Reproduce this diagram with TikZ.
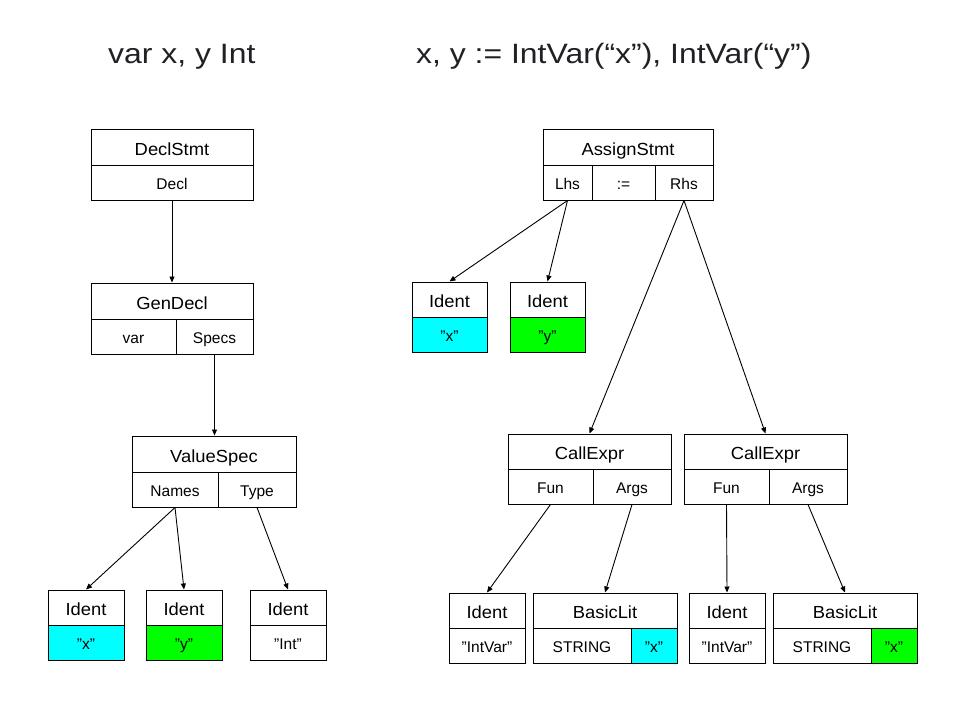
\documentclass[tikz,border=0pt]{standalone}
\usepackage{fontspec}
\setmainfont{Liberation Sans}
\newfontfamily\titlefont[FakeStretch=1.14]{Liberation Sans}
\newfontfamily\headfont[FakeStretch=1.05]{Liberation Sans}
\usetikzlibrary{arrows.meta}
\definecolor{cyanfill}{HTML}{00FFFF}
\definecolor{greenfill}{HTML}{00FF00}
\definecolor{titlegray}{HTML}{202124}
\newcommand\mycell[7][]{%
  \pgfmathsetmacro\cellW{#5-#3}\pgfmathsetmacro\cellH{#6-#4}%
  \pgfmathsetmacro\cellX{(#3+#5)/2}\pgfmathsetmacro\cellY{(#4+#6)/2}%
  \node[cell,#1,minimum width=\cellW pt,minimum height=\cellH pt] (#2) at (\cellX,\cellY) {#7};}
\begin{document}
\begin{tikzpicture}[x=1pt,y=-1pt,
  cell/.style={draw=black,line width=1pt,inner sep=0pt,text height=14.5pt,text depth=0pt,font=\fontsize{15.5}{18}\selectfont},
  head/.style={text height=16pt,font=\headfont\fontsize{17.5}{20}\selectfont},
  cyancell/.style={fill=cyanfill},
  greencell/.style={fill=greenfill},
  arr/.style={line width=0.9pt,-{Triangle[length=6pt,width=5pt]}},
  titletext/.style={anchor=base west,inner sep=0pt,text=titlegray,font=\titlefont\fontsize{28}{32}\selectfont}]
\useasboundingbox[fill=white] (0,0) rectangle (960,720);
% titles
\node[titletext] (t1) at (108,63) {var x, y Int};
\node[titletext] (t2) at (416,63) {x, y := IntVar(“x”), IntVar(“y”)};
% left tree
\mycell[head]{declstmt}{91}{129}{253}{165}{DeclStmt}
\mycell{decl}{91}{165}{253}{200}{Decl}
\mycell[head]{gendecl}{91}{283}{253}{319}{GenDecl}
\mycell{var}{91}{319}{176}{354}{var}
\mycell{specs}{176}{319}{253}{354}{Specs}
\mycell[head]{valuespec}{132}{436}{296}{472}{ValueSpec}
\mycell{names}{132}{472}{218}{507}{Names}
\mycell{type}{218}{472}{296}{507}{Type}
\mycell[head]{identA}{48}{590}{124}{625}{Ident}
\mycell[cyancell]{identAv}{48}{625}{124}{660}{”x”}
\mycell[head]{identB}{146}{590}{222}{625}{Ident}
\mycell[greencell]{identBv}{146}{625}{222}{660}{”y”}
\mycell[head]{identC}{250}{590}{326}{625}{Ident}
\mycell{identCv}{250}{625}{326}{660}{”Int”}
% right tree
\mycell[head]{assign}{543}{129}{713}{165}{AssignStmt}
\mycell{lhs}{543}{165}{592}{200}{Lhs}
\mycell{tok}{592}{165}{655}{200}{:=}
\mycell{rhs}{655}{165}{713}{200}{Rhs}
\mycell[head]{identX}{412}{282}{487}{317}{Ident}
\mycell[cyancell]{identXv}{412}{317}{487}{352}{”x”}
\mycell[head]{identY}{510}{282}{585}{317}{Ident}
\mycell[greencell]{identYv}{510}{317}{585}{352}{”y”}
\mycell[head]{call1}{508}{434}{671}{469}{CallExpr}
\mycell{fun1}{508}{469}{593}{504}{Fun}
\mycell{args1}{593}{469}{671}{504}{Args}
\mycell[head]{call2}{684}{434}{847}{469}{CallExpr}
\mycell{fun2}{684}{469}{769}{504}{Fun}
\mycell{args2}{769}{469}{847}{504}{Args}
\mycell[head]{identF1}{449}{593}{525}{628}{Ident}
\mycell{identF1v}{449}{628}{525}{663}{”IntVar”}
\mycell[head]{basic1}{533}{593}{677}{628}{BasicLit}
\mycell{str1}{533}{628}{631}{663}{STRING}
\mycell[cyancell]{lit1}{631}{628}{677}{663}{”x”}
\mycell[head]{identF2}{689}{593}{765}{628}{Ident}
\mycell{identF2v}{689}{628}{765}{663}{”IntVar”}
\mycell[head]{basic2}{773}{593}{917}{628}{BasicLit}
\mycell{str2}{773}{628}{871}{663}{STRING}
\mycell[greencell]{lit2}{871}{628}{917}{663}{”x”}
% connectors left
\draw[arr] (decl.south) -- (gendecl.north);
\draw[arr] (specs.south) -- (specs.south |- valuespec.north);
\draw[arr] (names.south) -- (identA.north);
\draw[arr] (names.south) -- (identB.north);
\draw[arr] (type.south) -- (identC.north);
% connectors right
\draw[arr] (lhs.south) -- (identX.north);
\draw[arr] (lhs.south) -- (identY.north);
\draw[arr] (rhs.south) -- (call1.north);
\draw[arr] (rhs.south) -- (call2.north);
\draw[arr] (fun1.south) -- (identF1.north);
\draw[arr] (args1.south) -- (basic1.north);
\draw[arr] (fun2.south) -- (identF2.north);
\draw[arr] (args2.south) -- (basic2.north);
\end{tikzpicture}
\end{document}
